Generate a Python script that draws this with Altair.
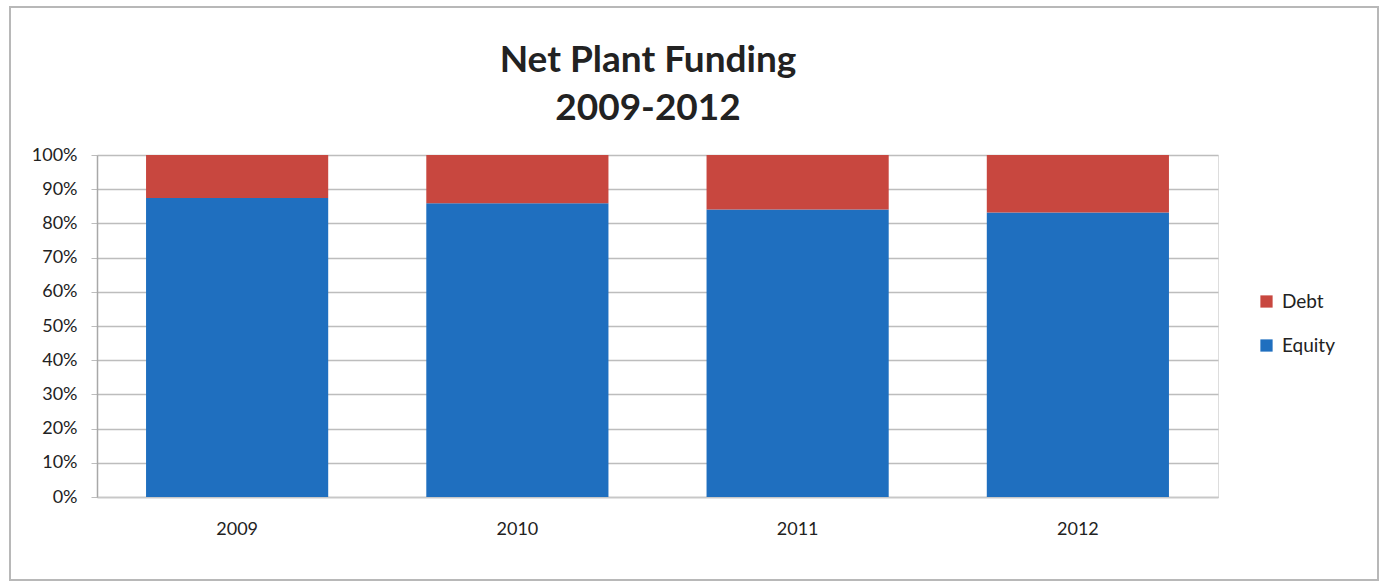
import altair as alt
import pandas as pd

years = ["2009", "2010", "2011", "2012"]
equity = [0.874, 0.859, 0.841, 0.832]
debt = [round(1 - e, 3) for e in equity]
series = ["Debt", "Equity"]
colors = ["#C8473F", "#1F6FBF"]
y_ticks = [i / 10 for i in range(11)]
title_text = "Net Plant Funding\n2009-2012"

rows = []
for y, e, d in zip(years, equity, debt):
    rows.append({"year": y, "series": "Equity", "value": e, "ord": 0})
    rows.append({"year": y, "series": "Debt", "value": d, "ord": 1})
df = pd.DataFrame(rows)

FONT = "Lato"

bars = alt.Chart(df).mark_bar().encode(
    x=alt.X("year:N", title=None, sort=years,
            scale=alt.Scale(paddingInner=0.35, paddingOuter=0.175),
            axis=alt.Axis(labelAngle=0, labelFontSize=18, labelFont=FONT, labelColor="#222",
                          labelPadding=23, ticks=False, domainColor="#c8c8c8", domainWidth=1.5)),
    y=alt.Y("value:Q", title=None, stack="zero",
            scale=alt.Scale(domain=[0, 1], nice=False),
            axis=alt.Axis(values=y_ticks, format=".0%", labelFontSize=18, labelFont=FONT,
                          labelColor="#222", labelPadding=14, gridColor="#bdbdbd", gridWidth=1.5,
                          tickColor="#bdbdbd", tickSize=6, domainColor="#a8a8a8", domainWidth=1.5)),
    color=alt.Color("series:N", scale=alt.Scale(domain=series, range=colors),
                    legend=alt.Legend(title=None, orient="none", legendX=1160, legendY=137,
                                      symbolType="square", symbolSize=150, symbolStrokeWidth=0,
                                      labelFontSize=19, labelFont=FONT, labelColor="#222",
                                      rowPadding=24, labelOffset=6)),
    order=alt.Order("ord:Q"),
)

frame = alt.Chart(pd.DataFrame({"a": [0]})).mark_rect(
    fill=None, stroke="#b8b8b8", strokeWidth=2
).encode(
    x=alt.value(-87), x2=alt.value(1281), y=alt.value(-148), y2=alt.value(425)
)

title = alt.Chart(pd.DataFrame({"t": [title_text]})).mark_text(
    font=FONT, fontSize=37, fontWeight="bold", color="#222", align="center",
    baseline="alphabetic", lineBreak="\n", lineHeight=48
).encode(
    text="t:N", x=alt.value(551), y=alt.value(-83)
)

chart = alt.layer(frame, title, bars).properties(
    width=1121, height=342,
    autosize=alt.AutoSizeParams(type="none"),
    padding={"left": 97, "top": 155, "right": 162, "bottom": 86},
).configure_view(stroke=None).configure(background="white")

chart.save("out.html", embed_options={"renderer": "svg", "actions": False})
